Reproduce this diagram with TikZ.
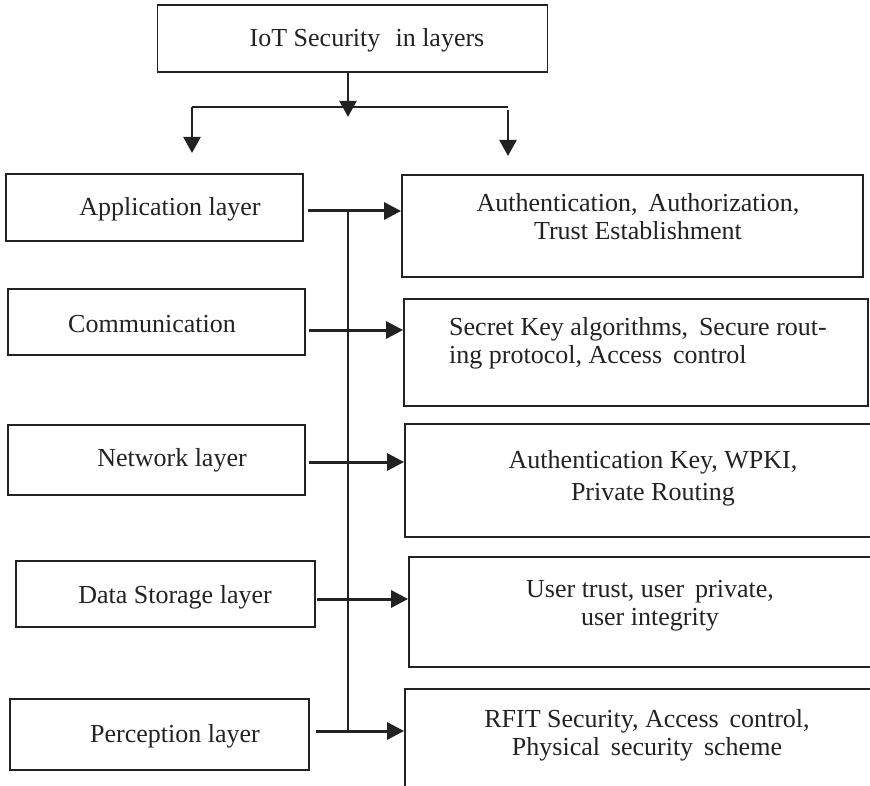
\documentclass[tikz,border=0pt]{standalone}
\usepackage{fontspec}
\setmainfont{Liberation Serif}
\usetikzlibrary{arrows.meta}
\definecolor{ink}{HTML}{222222}
\tikzset{
  box/.style={draw=ink, line width=1.8pt, rectangle, inner sep=0pt},
  txt/.style={text=ink, anchor=base, inner sep=0pt, font=\fontsize{26}{30}\selectfont},
  txtl/.style={txt, anchor=base west},
  harr/.style={draw=ink, line width=3pt, -{Triangle[length=17pt,width=17pt]}},
  varr/.style={draw=ink, line width=2.4pt, -{Triangle[length=16pt,width=17pt]}},
  vline/.style={draw=ink, line width=2pt},
}
\begin{document}
\begin{tikzpicture}[x=1pt,y=-1pt]
\useasboundingbox (0,0) rectangle (870,786);
\clip (0,0) rectangle (870,786);
% top box
\node[box, minimum width=390pt, minimum height=67pt] (top) at (352.5,38.5) {};
\node[txt] (toptxt) at (367,47) {IoT Security\,\, in layers};
% left boxes
\node[box, minimum width=297pt, minimum height=67pt] (L1) at (154.5,207.5) {};
\node[box, minimum width=297pt, minimum height=66pt] (L2) at (156.5,322) {};
\node[box, minimum width=297pt, minimum height=70pt] (L3) at (156.5,460) {};
\node[box, minimum width=299pt, minimum height=66pt] (L4) at (165.5,594) {};
\node[box, minimum width=299pt, minimum height=71pt] (L5) at (159.5,734.5) {};
\node[txt] (L1t) at (170,216) {Application layer};
\node[txt] (L2t) at (152,332) {Communication};
\node[txt] (L3t) at (172,466) {Network layer};
\node[txt] (L4t) at (175,603) {Data Storage layer};
\node[txt] (L5t) at (175,742) {Perception layer};
% right boxes
\node[box, minimum width=461pt, minimum height=102pt] (R1) at (632.5,226) {};
\node[box, minimum width=464pt, minimum height=107pt] (R2) at (636,352.5) {};
\node[box, minimum width=470pt, minimum height=113pt] (R3) at (640,480.5) {};
\node[box, minimum width=467pt, minimum height=110pt] (R4) at (642.5,612) {};
\node[box, minimum width=470pt, minimum height=110pt] (R5) at (640,744) {};
\node[txt] (R1a) at (638,212) {Authentication,\, Authorization,};
\node[txt] (R1b) at (638,240) {Trust Establishment};
\node[txtl] (R2a) at (449,335) {Secret Key algorithms,\, Secure rout-};
\node[txtl] (R2b) at (449,363) {ing protocol, Access\, control};
\node[txt] (R3a) at (653,468) {Authentication Key, WPKI,};
\node[txt] (R3b) at (653,500) {Private Routing};
\node[txt] (R4a) at (650,597) {User trust, user\, private,};
\node[txt] (R4b) at (650,625) {user integrity};
\node[txt] (R5a) at (647,727) {RFIT Security, Access\, control,};
\node[txt] (R5b) at (647,755) {Physical\, security\, scheme};
% top branching
\coordinate (bl) at (192,107);
\coordinate (br) at (508,107);
\draw[vline] (bl) -- (br);
\draw[varr] (top.south -| 348,0) -- ++(0,44);
\draw[varr] (bl) -- ++(0,46);
\draw[varr] ([yshift=-3pt]br) -- ++(0,46);
% horizontal arrows
\coordinate (vx) at (348,0);
\draw[harr] ([shift={(4,3.5)}]L1.east) coordinate (s1) -- (s1 -| R1.west);
\draw[harr] ([shift={(3,8)}]L2.east) coordinate (s2) -- (s2 -| R2.west);
\draw[harr] ([shift={(3,2)}]L3.east) coordinate (s3) -- (s3 -| R3.west);
\draw[harr] ([shift={(1,5)}]L4.east) coordinate (s4) -- (s4 -| R4.west);
\draw[harr] ([shift={(6,-3.5)}]L5.east) coordinate (s5) -- (s5 -| R5.west);
\draw[vline] (s1 -| vx) -- (s5 -| vx);
\end{tikzpicture}
\end{document}
